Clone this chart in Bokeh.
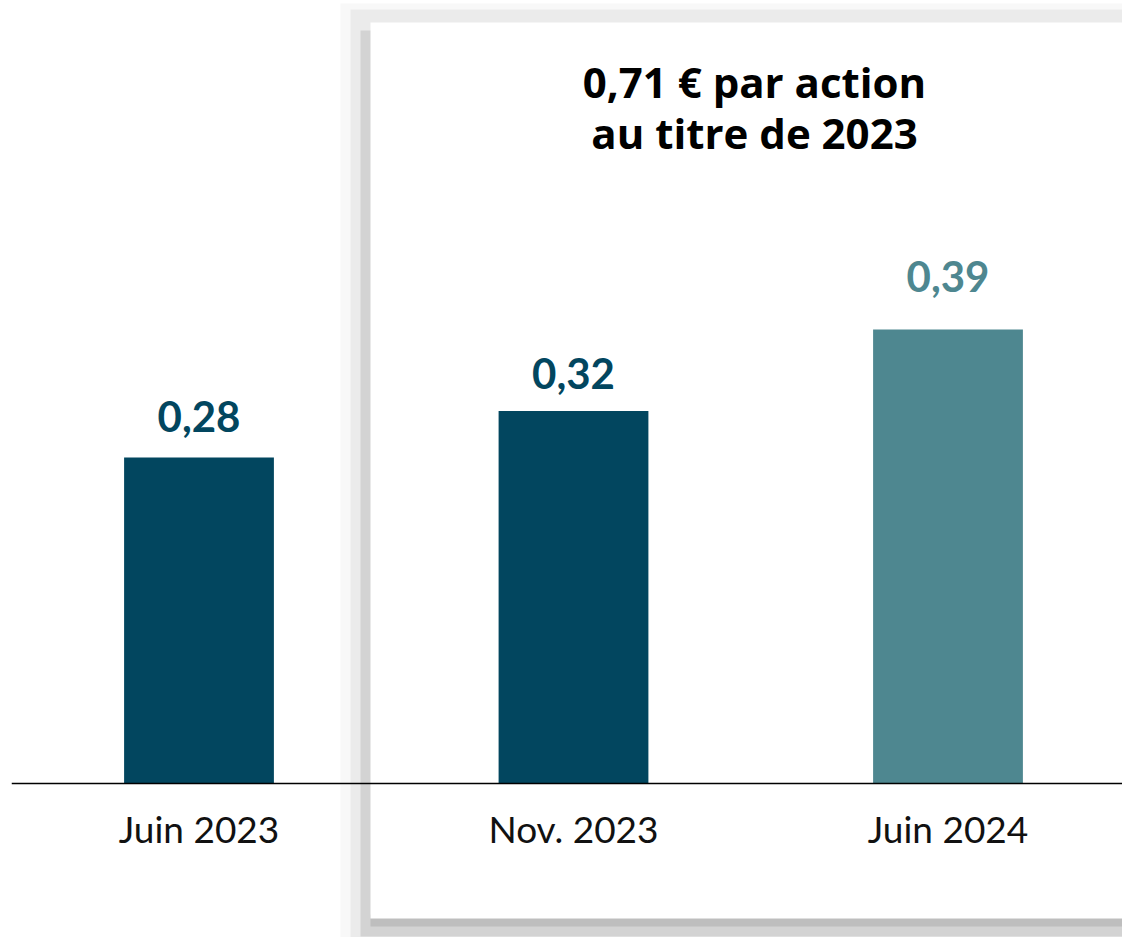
from bokeh.plotting import figure
from bokeh.models import Range1d, ColumnDataSource
from bokeh.core.properties import value
from bokeh.embed import file_html
from bokeh.resources import INLINE

# ---- data ----
categories = ["Juin 2023", "Nov. 2023", "Juin 2024"]
dividends = [0.28, 0.32, 0.39]
value_labels = ["0,28", "0,32", "0,39"]
bar_colors = ["#02465f", "#02465f", "#4e8790"]
title_lines = ["0,71 € par action", "au titre de 2023"]

# ---- geometry (picture pixels -> data) ----
W, H = 1122, 937
SX = 374.5          # px per category
SY = 1164.0         # px per euro
X0 = -198.5 / SX    # first category centred at 198.5 px
BASE_PX = 783       # baseline px


def dx(px):
    return X0 + px / SX


def dy(py):
    return (BASE_PX - py) / SY


p = figure(width=W, height=H, output_backend="svg", toolbar_location=None,
           x_range=Range1d(dx(0), dx(W)), y_range=Range1d(dy(H), dy(0)),
           min_border=0, outline_line_color=None)
p.axis.visible = False
p.grid.visible = False
p.background_fill_color = "white"
p.border_fill_color = "white"

# ---- shadowed box (decoration) ----
R = dx(1300)
layers = [
    (340, 3, 960, "#f8f8f8"),
    (350, 9, 960, "#ebebeb"),
    (360, 30, 936, "#d3d3d3"),
]
for lx, ty, by, c in layers:
    p.quad(left=dx(lx), right=R, top=dy(ty), bottom=dy(by), fill_color=c, line_color=None)
p.quad(left=dx(370), right=R, top=dy(914), bottom=dy(926), fill_color="#bebebe", line_color=None)
p.quad(left=dx(370), right=R, top=dy(22), bottom=dy(918), fill_color="white", line_color=None)

# ---- bars ----
xs = list(range(len(categories)))
src = ColumnDataSource(dict(x=xs, top=dividends, color=bar_colors, lab=value_labels,
                            cat=categories, zero=[0] * len(xs)))
p.vbar(x="x", top="top", bottom=0, width=0.4, fill_color="color", line_color=None, source=src)

# baseline
p.segment(x0=[-0.5], x1=[2.6], y0=[0], y1=[0], line_color="black", line_width=1.3)

# value labels
offsets = [-26, -22, -38]
for i in xs:
    p.text(x=[xs[i]], y=[dividends[i]], text=[value_labels[i]], y_offset=offsets[i],
           text_align="center", text_baseline="bottom", text_color=bar_colors[i],
           text_font=value("Lato"), text_font_style="bold", text_font_size="42px")

# category labels
p.text(x="x", y="zero", text="cat", source=src, y_offset=45,
       text_align="center", text_baseline="middle", text_color="#111111",
       text_font=value("Lato"), text_font_size="37px")

# title
p.text(x=[dx(754), dx(754)], y=[dy(81), dy(132)], text=title_lines,
       text_align="center", text_baseline="middle", text_color="black",
       text_font=value("Open Sans"), text_font_style="bold", text_font_size="42px")

open("out.html", "w").write(file_html(p, INLINE))
